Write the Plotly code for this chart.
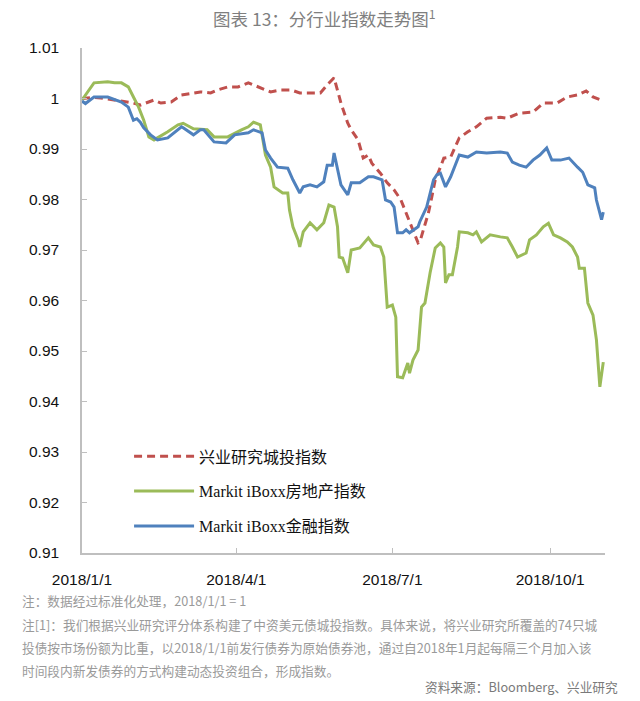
import plotly.graph_objects as go

# ---------------- data ----------------
red_name = "兴业研究城投指数"
red_dates = ["2018-01-01","2018-01-08","2018-01-12","2018-01-20","2018-01-31","2018-02-04","2018-02-09",
             "2018-02-12","2018-02-16","2018-02-22","2018-02-28","2018-03-04","2018-03-11","2018-03-17",
             "2018-03-21","2018-03-27","2018-04-02","2018-04-08","2018-04-15","2018-04-21","2018-04-27",
             "2018-05-03","2018-05-08","2018-05-16","2018-05-20","2018-05-24","2018-05-28","2018-06-01",
             "2018-06-05","2018-06-07","2018-06-11","2018-06-14","2018-06-17","2018-06-19","2018-06-24",
             "2018-06-28","2018-07-02","2018-07-06","2018-07-09","2018-07-11","2018-07-16","2018-07-17",
             "2018-07-19","2018-07-22","2018-07-24","2018-07-26","2018-07-29","2018-07-31","2018-08-04",
             "2018-08-09","2018-08-14","2018-08-19","2018-08-25","2018-09-02","2018-09-06","2018-09-13",
             "2018-09-21","2018-09-27","2018-10-05","2018-10-11","2018-10-17","2018-10-22","2018-10-26",
             "2018-11-01"]
red_values = [1.0000,1.0002,1.0001,0.9997,0.9991,0.9987,0.9993,
              0.9997,0.9991,0.9993,1.0007,1.0009,1.0013,1.0011,
              1.0017,1.0023,1.0023,1.0031,1.0021,1.0013,1.0017,
              1.0017,1.0011,1.0011,1.0011,1.0027,1.0041,0.9991,
              0.9951,0.9938,0.9918,0.9882,0.9888,0.9872,0.9852,
              0.9833,0.9819,0.9799,0.9773,0.9754,0.9714,0.9716,
              0.9740,0.9773,0.9805,0.9839,0.9864,0.9882,0.9884,
              0.9922,0.9934,0.9944,0.9961,0.9963,0.9961,0.9971,
              0.9973,0.9991,0.9991,1.0003,1.0007,1.0015,1.0003,
              0.9995]

green_name = "Markit iBoxx房地产指数"
green_dates = ["2018-01-01","2018-01-05","2018-01-08","2018-01-16","2018-01-20","2018-01-24","2018-01-28",
               "2018-01-31","2018-02-03","2018-02-06","2018-02-09","2018-02-12","2018-02-20","2018-02-26",
               "2018-03-01","2018-03-07","2018-03-15","2018-03-19","2018-03-27","2018-04-04","2018-04-08",
               "2018-04-11","2018-04-15","2018-04-18","2018-04-21","2018-04-23","2018-04-28","2018-05-01",
               "2018-05-02","2018-05-04","2018-05-07","2018-05-08","2018-05-10","2018-05-14","2018-05-18",
               "2018-05-22","2018-05-25","2018-05-28","2018-05-30","2018-05-31","2018-06-02","2018-06-05",
               "2018-06-07","2018-06-12","2018-06-17","2018-06-20","2018-06-24","2018-06-26","2018-06-27",
               "2018-06-28","2018-07-01","2018-07-03","2018-07-04","2018-07-07","2018-07-10","2018-07-11",
               "2018-07-13","2018-07-16","2018-07-18","2018-07-20","2018-07-23","2018-07-26","2018-07-29",
               "2018-07-31","2018-08-01","2018-08-03","2018-08-05","2018-08-08","2018-08-09","2018-08-14",
               "2018-08-17","2018-08-19","2018-08-22","2018-08-27","2018-09-02","2018-09-06","2018-09-09",
               "2018-09-12","2018-09-17","2018-09-19","2018-09-23","2018-09-27","2018-09-30","2018-10-03",
               "2018-10-07","2018-10-11","2018-10-14","2018-10-17","2018-10-18","2018-10-21","2018-10-23",
               "2018-10-26","2018-10-28","2018-10-30","2018-11-01"]
green_values = [0.9997,1.0017,1.0031,1.0033,1.0031,1.0031,1.0023,
                1.0003,0.9983,0.9957,0.9924,0.9918,0.9934,0.9948,
                0.9951,0.9940,0.9938,0.9924,0.9924,0.9938,0.9944,
                0.9953,0.9948,0.9888,0.9864,0.9825,0.9813,0.9813,
                0.9779,0.9746,0.9720,0.9706,0.9736,0.9754,0.9740,
                0.9754,0.9789,0.9785,0.9746,0.9686,0.9684,0.9655,
                0.9700,0.9704,0.9724,0.9710,0.9706,0.9686,0.9645,
                0.9587,0.9591,0.9567,0.9449,0.9447,0.9476,0.9456,
                0.9482,0.9502,0.9587,0.9595,0.9655,0.9704,0.9714,
                0.9706,0.9635,0.9651,0.9651,0.9706,0.9736,0.9734,
                0.9730,0.9736,0.9716,0.9730,0.9726,0.9724,0.9706,
                0.9686,0.9694,0.9720,0.9730,0.9746,0.9753,0.9730,
                0.9724,0.9716,0.9706,0.9686,0.9664,0.9664,0.9595,
                0.9571,0.9522,0.9429,0.9478]

blue_name = "Markit iBoxx金融指数"
blue_dates = ["2018-01-01","2018-01-03","2018-01-08","2018-01-16","2018-01-24","2018-01-28","2018-01-31",
              "2018-02-02","2018-02-04","2018-02-06","2018-02-10","2018-02-14","2018-02-20","2018-02-28",
              "2018-03-01","2018-03-07","2018-03-11","2018-03-13","2018-03-19","2018-03-26","2018-03-31",
              "2018-04-08","2018-04-11","2018-04-16","2018-04-18","2018-04-21","2018-04-25","2018-05-01",
              "2018-05-04","2018-05-08","2018-05-10","2018-05-14","2018-05-18","2018-05-22","2018-05-24",
              "2018-05-27","2018-05-28","2018-05-30","2018-06-01","2018-06-05","2018-06-07","2018-06-12",
              "2018-06-17","2018-06-20","2018-06-25","2018-06-27","2018-06-30","2018-07-02","2018-07-04",
              "2018-07-07","2018-07-09","2018-07-11","2018-07-16","2018-07-17","2018-07-21","2018-07-25",
              "2018-07-27","2018-07-29","2018-08-01","2018-08-04","2018-08-08","2018-08-09","2018-08-14",
              "2018-08-19","2018-08-25","2018-09-02","2018-09-06","2018-09-09","2018-09-13","2018-09-17",
              "2018-09-21","2018-09-25","2018-09-29","2018-10-02","2018-10-07","2018-10-12","2018-10-17",
              "2018-10-20","2018-10-23","2018-10-27","2018-10-28","2018-10-29","2018-10-31","2018-11-01"]
blue_values = [0.9995,0.9990,1.0003,1.0003,0.9993,0.9983,0.9957,
               0.9960,0.9953,0.9942,0.9928,0.9918,0.9922,0.9944,
               0.9942,0.9928,0.9938,0.9938,0.9914,0.9912,0.9928,
               0.9932,0.9938,0.9932,0.9898,0.9882,0.9864,0.9862,
               0.9839,0.9813,0.9825,0.9829,0.9825,0.9835,0.9868,
               0.9868,0.9892,0.9858,0.9829,0.9809,0.9833,0.9833,
               0.9845,0.9845,0.9839,0.9799,0.9795,0.9785,0.9734,
               0.9734,0.9740,0.9734,0.9746,0.9756,0.9785,0.9839,
               0.9849,0.9852,0.9825,0.9845,0.9878,0.9888,0.9884,
               0.9894,0.9892,0.9894,0.9892,0.9874,0.9868,0.9864,
               0.9878,0.9888,0.9902,0.9878,0.9878,0.9882,0.9864,
               0.9854,0.9829,0.9823,0.9799,0.9785,0.9760,0.9775]

x_tick_vals = ["2018-01-01","2018-04-01","2018-07-01","2018-10-01"]
x_tick_text = ["2018/1/1","2018/4/1","2018/7/1","2018/10/1"]
y_tick_vals = [0.91,0.92,0.93,0.94,0.95,0.96,0.97,0.98,0.99,1.00,1.01]
y_tick_text = ["0.91","0.92","0.93","0.94","0.95","0.96","0.97","0.98","0.99","1","1.01"]

title_text = "图表 13：分行业指数走势图<sup>1</sup>"
note_lines = [
    "注：数据经过标准化处理，2018/1/1 = 1",
    "注[1]：我们根据兴业研究评分体系构建了中资美元债城投指数。具体来说，将兴业研究所覆盖的74只城",
    "投债按市场份额为比重，以2018/1/1前发行债券为原始债券池，通过自2018年1月起每隔三个月加入该",
    "时间段内新发债券的方式构建动态投资组合，形成指数。",
]
source_text = "资料来源：Bloomberg、兴业研究"

# ---------------- figure ----------------
fig = go.Figure()
fig.add_trace(go.Scatter(x=red_dates, y=red_values, name=red_name, mode="lines",
                         legendgroup="a",
                         line=dict(color="#C0504D", width=3, dash="8px,5px")))
fig.add_trace(go.Scatter(x=green_dates, y=green_values, name=green_name, mode="lines",
                         legendgroup="b",
                         line=dict(color="#9BBB59", width=3)))
fig.add_trace(go.Scatter(x=blue_dates, y=blue_values, name=blue_name, mode="lines",
                         legendgroup="c",
                         line=dict(color="#4F81BD", width=3)))

W, H = 640, 701
L, R, T, B = 82, 35, 48, 148

fig.update_layout(
    width=W, height=H,
    margin=dict(l=L, r=R, t=T, b=B, pad=0),
    paper_bgcolor="white", plot_bgcolor="white",
    font=dict(family="Liberation Sans, Noto Sans CJK SC", color="#222222", size=15),
    showlegend=True,
    legend=dict(
        x=0.09, y=0.225, xanchor="left", yanchor="top",
        bgcolor="rgba(0,0,0,0)",
        font=dict(family="Liberation Serif, Noto Sans CJK SC", size=16, color="#111111"),
        tracegroupgap=11,
        itemwidth=60,
    ),
    xaxis=dict(
        type="date",
        range=["2018-01-01", "2018-11-02"],
        tickmode="array", tickvals=x_tick_vals, ticktext=x_tick_text,
        showgrid=False, zeroline=False,
        showline=True, linecolor="#bfbfbf", linewidth=1.5,
        ticks="inside", ticklen=5, tickcolor="#bfbfbf",
        ticklabelstandoff=12,
        tickfont=dict(size=15.5, color="#111111"),
    ),
    yaxis=dict(
        range=[0.91, 1.01],
        tickmode="array", tickvals=y_tick_vals, ticktext=y_tick_text,
        showgrid=False, zeroline=False,
        showline=True, linecolor="#bfbfbf", linewidth=1.5,
        ticks="inside", ticklen=5, tickcolor="#bfbfbf",
        ticklabelstandoff=18,
        tickfont=dict(size=15.5, color="#111111"),
    ),
)

# text blocks placed by pixel anchors, converted to paper coordinates
pw, ph = W - L - R, H - T - B

def px(xp):
    return (xp - L) / pw

def py(yp):
    return (H - B - yp) / ph

annotations = [
    dict(text=title_text, x=px(324), y=py(18), xref="paper", yref="paper",
         showarrow=False, xanchor="center", yanchor="middle",
         font=dict(size=17.5, color="#7f7f7f", family="Noto Sans CJK SC")),
]
note_y = [600, 624, 647, 670]
for txt, yy in zip(note_lines, note_y):
    annotations.append(dict(text=txt, x=px(20), y=py(yy), xref="paper", yref="paper",
                            showarrow=False, xanchor="left", yanchor="middle",
                            font=dict(size=12.7, color="#9a9a9a", family="Noto Sans CJK SC")))
annotations.append(dict(text=source_text, x=px(620), y=py(686), xref="paper", yref="paper",
                        showarrow=False, xanchor="right", yanchor="middle",
                        font=dict(size=12.7, color="#7a7a7a", family="Noto Sans CJK SC")))
fig.update_layout(annotations=annotations)

fig.write_html("out.html")
